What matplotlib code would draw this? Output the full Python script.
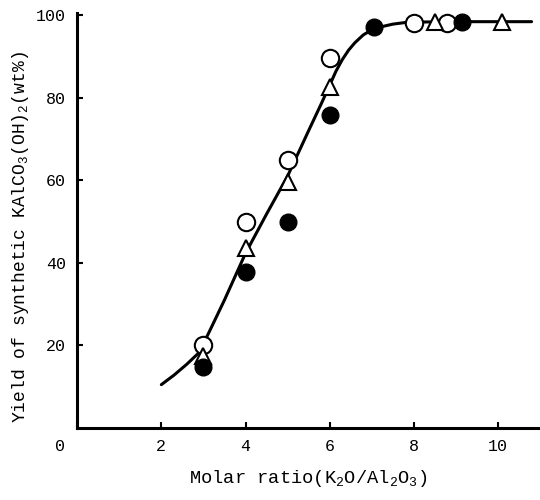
import matplotlib
matplotlib.use("Agg")
import matplotlib.pyplot as plt
import matplotlib.transforms as mtransforms

plt.rcParams['font.family'] = ['Liberation Mono', 'DejaVu Sans Mono']
plt.rcParams['mathtext.fontset'] = 'custom'
plt.rcParams['mathtext.rm'] = 'Liberation Mono'
plt.rcParams['mathtext.it'] = 'Liberation Mono'

# Data
open_circle_x = [3, 4, 5, 6, 8, 8.8]
open_circle_y = [20, 50, 65, 89.6, 98, 98]
triangle_x = [3, 4, 5, 6, 8.5, 10.1]
triangle_y = [17.5, 43.6, 59.6, 82.6, 98.3, 98.3]
filled_x = [3, 4, 5, 6, 7.05, 9.15]
filled_y = [14.8, 37.8, 49.9, 75.8, 97.0, 98.3]

curve_x = [2.0, 2.3, 2.6, 2.9, 3.2, 3.5, 4.0, 4.5, 5.0, 5.5, 5.8, 6.0, 6.15, 6.3,
           6.45, 6.6, 6.8, 7.0, 7.2, 7.5, 7.8, 8.0, 9.0, 10.0, 10.8]
curve_y = [10.5, 12.8, 15.4, 18.3, 24.6, 31.0, 42.3, 51.8, 61.0, 72.0, 78.5, 83.0,
           86.4, 89.2, 91.5, 93.3, 95.2, 96.4, 97.1, 97.8, 98.2, 98.3, 98.4, 98.4, 98.4]

x_ticks = [0, 2, 4, 6, 8, 10]
y_ticks = [20, 40, 60, 80, 100]

fig = plt.figure(figsize=(5.4, 5.0), dpi=100)
ax = fig.add_axes([0.143, 0.144, 0.857, 0.83])

ax.plot(curve_x, curve_y, color='black', lw=2.2, zorder=2,
        solid_joinstyle='round', solid_capstyle='round')
ax.plot(open_circle_x, open_circle_y, 'o', ms=12.5, mfc='white', mec='black', mew=1.5, zorder=3)
ax.plot(triangle_x, triangle_y, '^', ms=12, mfc='white', mec='black', mew=1.5, zorder=3)
ax.plot(filled_x, filled_y, 'o', ms=12, mfc='black', mec='black', zorder=4)

ax.set_xlim(0, 11.0)
ax.set_ylim(0, 100.5)
ax.spines['top'].set_visible(False)
ax.spines['right'].set_visible(False)
ax.spines['left'].set_linewidth(2.2)
ax.spines['bottom'].set_linewidth(2.2)

ax.set_xticks(x_ticks)
ax.set_xticklabels([str(v) for v in x_ticks])
ax.set_yticks(y_ticks)
ax.set_yticklabels([str(v) for v in y_ticks])
ax.tick_params(direction='in', length=4, width=1.5, labelsize=12, pad=8)

# shift the origin "0" label to the left like in the reference
lbl0 = ax.get_xticklabels()[0]
lbl0.set_transform(lbl0.get_transform() + mtransforms.ScaledTranslation(-0.17, 0, fig.dpi_scale_trans))

ax.set_xlabel('Molar ratio(K$_2$O/Al$_2$O$_3$)', fontsize=13.5, labelpad=10)
ax.set_ylabel('Yield of synthetic KAlCO$_3$(OH)$_2$(wt%)', fontsize=13)
ax.yaxis.set_label_coords(-0.1, 0.46)

fig.savefig('out.png', dpi=100)
